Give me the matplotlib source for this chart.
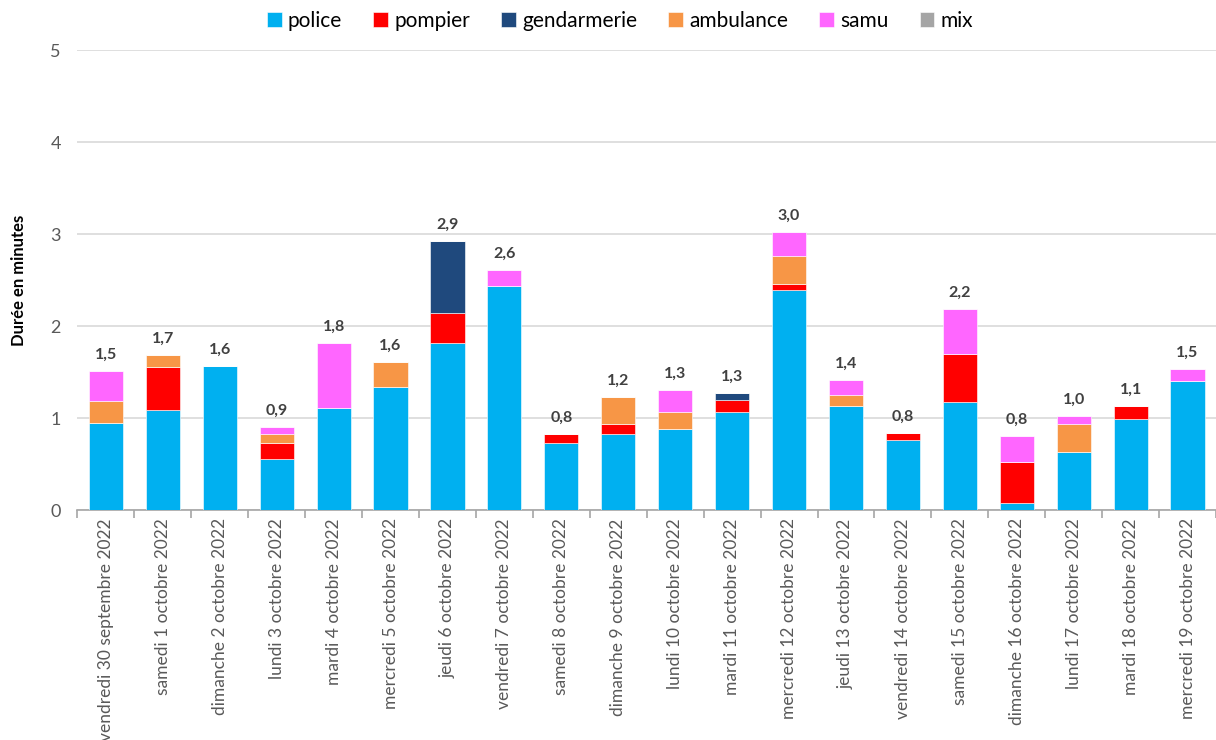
import matplotlib.pyplot as plt
import numpy as np

plt.rcParams['font.family'] = ['Lato', 'DejaVu Sans']

dates = ['vendredi 30 septembre 2022', 'samedi 1 octobre 2022', 'dimanche 2 octobre 2022',
         'lundi 3 octobre 2022', 'mardi 4 octobre 2022', 'mercredi 5 octobre 2022',
         'jeudi 6 octobre 2022', 'vendredi 7 octobre 2022', 'samedi 8 octobre 2022',
         'dimanche 9 octobre 2022', 'lundi 10 octobre 2022', 'mardi 11 octobre 2022',
         'mercredi 12 octobre 2022', 'jeudi 13 octobre 2022', 'vendredi 14 octobre 2022',
         'samedi 15 octobre 2022', 'dimanche 16 octobre 2022', 'lundi 17 octobre 2022',
         'mardi 18 octobre 2022', 'mercredi 19 octobre 2022']

police = [0.95, 1.09, 1.56, 0.55, 1.11, 1.34, 1.81, 2.44, 0.73, 0.83,
          0.88, 1.07, 2.39, 1.13, 0.76, 1.17, 0.08, 0.63, 0.99, 1.40]
pompier = [0.0, 0.46, 0.0, 0.18, 0.0, 0.0, 0.33, 0.0, 0.10, 0.11,
           0.0, 0.13, 0.07, 0.0, 0.08, 0.53, 0.44, 0.0, 0.14, 0.0]
gendarmerie = [0.0, 0.0, 0.0, 0.0, 0.0, 0.0, 0.78, 0.0, 0.0, 0.0,
               0.0, 0.07, 0.0, 0.0, 0.0, 0.0, 0.0, 0.0, 0.0, 0.0]
ambulance = [0.23, 0.14, 0.0, 0.10, 0.0, 0.27, 0.0, 0.0, 0.0, 0.29,
             0.18, 0.0, 0.30, 0.12, 0.0, 0.0, 0.0, 0.31, 0.0, 0.0]
samu = [0.33, 0.0, 0.0, 0.07, 0.71, 0.0, 0.0, 0.17, 0.0, 0.0,
        0.24, 0.0, 0.26, 0.16, 0.0, 0.48, 0.28, 0.08, 0.0, 0.13]
mix = [0.0] * 20

series = [('police', police, '#00b0f0'), ('pompier', pompier, '#ff0000'),
          ('gendarmerie', gendarmerie, '#1f497d'), ('ambulance', ambulance, '#f79646'),
          ('samu', samu, '#ff66ff'), ('mix', mix, '#a5a5a5')]

fig = plt.figure(figsize=(12.16, 7.4), dpi=100)
ax = fig.add_axes([0.0637, 0.3108, 0.9363, 0.6216])

x = np.arange(len(dates))
bottom = np.zeros(len(dates))
for name, vals, col in series:
    vals = np.array(vals)
    ax.bar(x, vals, 0.6, bottom=bottom, color=col, label=name, zorder=3,
           edgecolor='white', linewidth=0.4)
    bottom = bottom + vals

for i, tot in enumerate(bottom):
    ax.text(i, tot + 0.1, '{:.1f}'.format(tot).replace('.', ','), ha='center', va='bottom',
            fontsize=11.5, fontweight='bold', color='#404040')

ax.set_xlim(-0.5, len(dates) - 0.5)
ax.set_ylim(0, 5)
ax.set_yticks(range(6))
ax.yaxis.grid(True, color='#d9d9d9', linewidth=1.2, zorder=0)
for s in ['top', 'right', 'left']:
    ax.spines[s].set_visible(False)
ax.spines['bottom'].set_color('#a6a6a6')
ax.spines['bottom'].set_linewidth(1.2)

ax.set_xticks(x)
ax.set_xticklabels(dates, rotation=90, fontsize=12.5, color='#595959')
ax.tick_params(axis='x', length=0, pad=6)
ax.set_xticks(np.arange(-0.5, len(dates), 1), minor=True)
ax.tick_params(axis='x', which='minor', length=6, color='#a6a6a6', width=1.2)
ax.tick_params(axis='y', length=0, labelsize=13, labelcolor='#595959', pad=12)

ax.set_ylabel('Durée en minutes', fontsize=12, fontweight='bold', labelpad=17)

fig.legend(loc='center', bbox_to_anchor=(0.51, 0.972), ncol=6, frameon=False,
           fontsize=15, handlelength=0.7, handleheight=0.7, handletextpad=0.3,
           columnspacing=1.5)

plt.savefig('out.png', dpi=100)
